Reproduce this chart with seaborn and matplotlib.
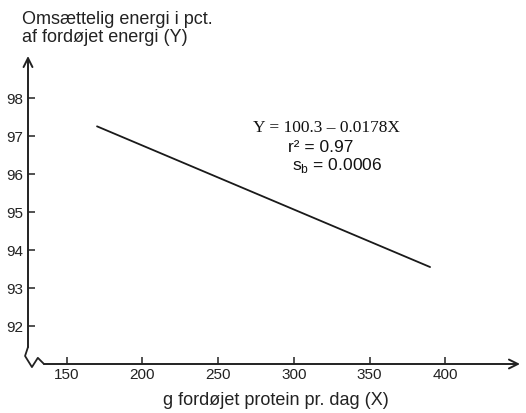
import matplotlib
matplotlib.use("Agg")
import pandas as pd
import seaborn as sns
import matplotlib.pyplot as plt

# values
protein = [170, 390]            # g fordøjet protein pr. dag (X)
energy_pct = [97.25, 93.55]     # omsættelig energi i pct. (Y)
x_ticks = [150, 200, 250, 300, 350, 400]
y_ticks = [92, 93, 94, 95, 96, 97, 98]
y_title = "Omsættelig energi i pct.\naf fordøjet energi (Y)"
x_title = "g fordøjet protein pr. dag (X)"
eq_lines = ["Y = 100.3 \u2013 0.0178X", "r\u00b2 = 0.97", "s$_\\mathregular{b}$ = 0.0006"]

sns.set_theme(style="ticks")
plt.rcParams['font.family'] = ['Liberation Sans', 'DejaVu Sans']

W, H = 526, 414
fig = plt.figure(figsize=(W / 100, H / 100), dpi=100)
ax = fig.add_axes([28 / W, 49 / H, 492 / W, 308 / H])

df = pd.DataFrame({"x": protein, "y": energy_pct})
sns.lineplot(data=df, x="x", y="y", ax=ax, color="#1a1a1a", lw=1.3)

ax.set_xlim(124.4, 449.4)
ax.set_ylim(91.0, 99.1)
ax.set_xticks(x_ticks)
ax.set_yticks(y_ticks)
ax.set_xlabel("")
ax.set_ylabel("")
ax.tick_params(axis="both", direction="in", length=5, width=1.1, colors="#222222", labelsize=11)
ax.tick_params(axis="x", pad=2.5)
ax.tick_params(axis="y", pad=3.5)
for s in ax.spines.values():
    s.set_visible(False)

# axis lines with open arrow heads
arrow = dict(arrowstyle="->", lw=1.4, color="#222222", shrinkA=0, shrinkB=0, mutation_scale=16)
ax.annotate("", xy=(0, 1), xytext=(0, 0.055), xycoords="axes fraction", arrowprops=arrow)
ax.annotate("", xy=(1, 0), xytext=(0.0325, 0), xycoords="axes fraction", arrowprops=arrow)
# axis break
ax.plot([0, -0.006, 0.008, 0.020, 0.0325], [0.055, 0.026, -0.010, 0.020, 0],
        transform=ax.transAxes, clip_on=False, color="#222222", lw=1.3)

fig.text(22 / W, 1 - 11 / H, y_title, ha="left", va="top", fontsize=13, linespacing=1.1, color="#222222")
fig.text(276 / W, 1 - 401 / H, x_title, ha="center", va="center", fontsize=13, color="#222222")

fig.text(253 / W, 1 - 128 / H, eq_lines[0], ha="left", va="center", fontsize=12.5,
         family=["Liberation Serif", "DejaVu Serif"], color="#111111")
fig.text(288 / W, 1 - 147 / H, eq_lines[1], ha="left", va="center", fontsize=12.5, color="#111111")
fig.text(292 / W, 1 - 166 / H, eq_lines[2], ha="left", va="center", fontsize=12.5, color="#111111")

fig.savefig("out.png", dpi=100)
